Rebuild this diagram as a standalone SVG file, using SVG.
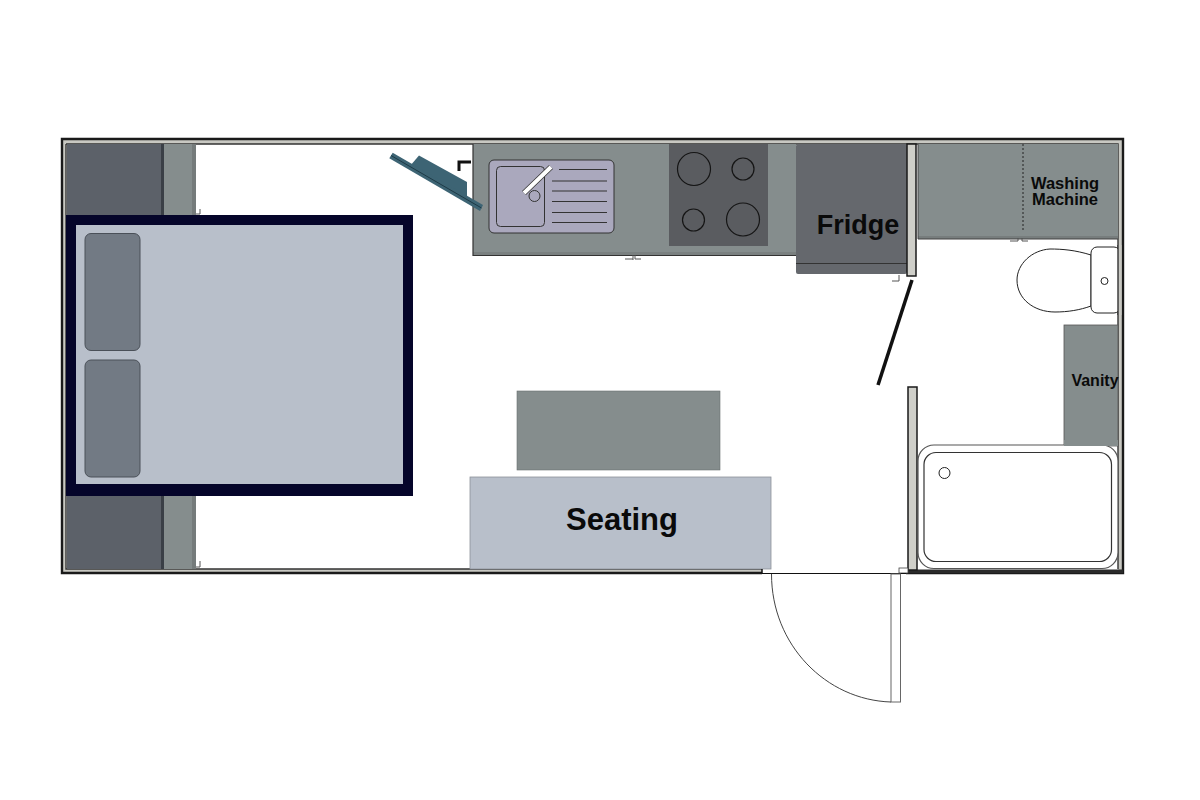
<svg xmlns="http://www.w3.org/2000/svg" width="1200" height="800" viewBox="0 0 1200 800">
<style>
.wall{fill:#cfcfc9;stroke:#1a1a1a;stroke-width:1.5}
.unit{fill:#858d8d}
.dark{fill:#5c6169}
.fix{fill:#fff;stroke:#222;stroke-width:1}
.tick{fill:none;stroke:#555;stroke-width:1}
.ln{fill:none;stroke:#333;stroke-width:1.2}
text{font-family:"Liberation Sans",Arial,sans-serif;font-weight:700;fill:#0a0a0a;text-anchor:middle}
</style>
<rect width="1200" height="800" fill="#fff"/>
<g id="shell">
<rect x="62" y="139" width="1061" height="5" fill="#c8c8c2"/>
<rect x="62.500" y="140" width="4" height="432" fill="#c8c8c2"/>
<rect x="1118" y="144" width="4" height="428" fill="#c8c8c2"/>
<rect x="66" y="569" width="696" height="3" fill="#c8c8c2"/>
<path d="M906 573H1123V139H62V573H762" fill="none" stroke="#1a1a1a" stroke-width="2.400"/>
<path d="M66 144H1118V569M66 144V569H762" fill="none" stroke="#333" stroke-width="1.400"/>
<rect x="907" y="569.500" width="216" height="3.500" fill="#2a2a2a"/>
</g>
<g id="wardrobe-top">
<rect x="67" y="144" width="94" height="72" class="dark"/>
<rect x="161" y="144" width="3" height="72" fill="#3a3f46"/>
<rect x="164" y="144" width="28" height="72" class="unit"/>
<rect x="192" y="144" width="4" height="72" fill="#757b7b"/>
<path class="tick" d="M196 214H200V209"/>
</g>
<g id="wardrobe-bottom">
<rect x="67" y="496" width="94" height="73" class="dark"/>
<rect x="161" y="496" width="3" height="73" fill="#3a3f46"/>
<rect x="164" y="496" width="28" height="73" class="unit"/>
<rect x="192" y="496" width="4" height="73" fill="#757b7b"/>
<path class="tick" d="M196 567H200V561"/>
</g>
<g id="bed">
<rect x="66" y="215" width="347" height="281" fill="#05052a"/>
<rect x="76" y="225" width="327" height="259" fill="#b8bfca"/>
<rect x="85" y="233.500" width="55" height="117" rx="6" fill="#727a84" stroke="#4a5058"/>
<rect x="85" y="360" width="55" height="117" rx="6" fill="#727a84" stroke="#4a5058"/>
</g>
<g id="counter">
<rect x="473" y="144" width="323" height="108" class="unit"/>
<rect x="473" y="252" width="323" height="3.500" fill="#7a8080"/>
<path d="M473 144V255.500H796" fill="none" stroke="#333" stroke-width="1.200"/>
<path class="tick" d="M633 255V260M625 259H633M641 259H635V255"/>
</g>
<g id="window">
<polygon points="410,166 419,155.500 467,182 467,198" fill="#3d6474"/>
<polygon points="392.700,152.700 483,205 480,211 389.300,158.300" fill="#3d6474"/>
<path d="M391 155.500L481.500 208" stroke="#1d3a46" stroke-width="1" fill="none"/>
<path d="M459 171V162H471" fill="none" stroke="#111" stroke-width="3"/>
</g>
<g id="sink">
<rect x="489" y="160" width="125" height="73" rx="5" fill="#aaa8bd" stroke="#333"/>
<rect x="496.500" y="166.500" width="48" height="60" rx="4" fill="#aaa8bd" stroke="#333"/>
<path d="M559 169.500H607M552 181H607M552 191H607M552 201.500H607M552 212.500H607M552 222.500H607" class="ln"/>
<circle cx="534.500" cy="196" r="5.500" fill="#aaa8bd" stroke="#333"/>
<path d="M524 193L551 167" stroke="#333" stroke-width="5.500"/>
<path d="M524 193L551 167" stroke="#fff" stroke-width="4"/>
</g>
<g id="hob">
<rect x="669" y="144" width="99" height="102" fill="#5a5c60"/>
<g fill="none" stroke="#151515" stroke-width="1.200">
<circle cx="694" cy="169" r="16.500"/><circle cx="743" cy="169" r="11"/>
<circle cx="693.500" cy="220" r="11"/><circle cx="743" cy="219.500" r="16.500"/>
</g>
</g>
<g id="fridge">
<rect x="796" y="144" width="111" height="130" rx="2" fill="#65686d"/>
<path d="M796 263.500H907" stroke="#333" stroke-width="1"/>
<path class="tick" d="M892 281H899V275"/>
<text x="858" y="234" font-size="27">Fridge</text>
</g>
<g id="partition">
<rect x="907" y="144" width="9" height="132" class="wall"/>
<rect x="908" y="387" width="9" height="183" class="wall"/>
<rect x="899" y="568" width="9" height="5" fill="#fff" stroke="#444" stroke-width=".8"/>
<path d="M912 280L878 385" stroke="#111" stroke-width="3.500"/>
</g>
<g id="washing-machine">
<rect x="918" y="144" width="200" height="92" class="unit"/>
<rect x="918" y="236" width="200" height="3" fill="#777d7d"/>
<path d="M918 144V239H1118" stroke="#444" stroke-width="1" fill="none"/>
<path d="M1023 144V232" stroke="#222" stroke-width="1" stroke-dasharray="2 2"/>
<path class="tick" d="M1018 238V241H1010M1022 238V241H1028"/>
<text x="1065" y="189" font-size="16.500">Washing</text>
<text x="1065" y="205" font-size="16.500">Machine</text>
</g>
<g id="toilet">
<path class="fix" d="M1091 255C1075 250 1062 249 1050 249C1032 250 1017 264 1017 280C1017 299 1034 312 1055 312C1068 312 1080 310 1091 306Z"/>
<rect x="1091" y="247" width="29" height="66" rx="6" class="fix"/>
<rect x="1118" y="245" width="3.500" height="70" fill="#c8c8c2"/>
<path d="M1118 245V315" stroke="#333" stroke-width="1.400"/>
<circle cx="1104.500" cy="281" r="3.500" class="fix"/>
</g>
<g id="vanity">
<rect x="1064" y="325" width="54" height="121" class="unit" stroke="#555" stroke-width=".8"/>
<text x="1095" y="386" font-size="16">Vanity</text>
</g>
<g id="bath">
<rect x="918" y="445" width="200" height="123.500" rx="16" fill="#fff" stroke="#555" stroke-width="1.200"/>
<rect x="924" y="452.500" width="187.500" height="109" rx="12" fill="#fff" stroke="#333" stroke-width="1.200"/>
<circle cx="944.500" cy="473" r="5.500" class="fix"/>
<rect x="1064" y="440" width="54" height="6" class="unit"/>
</g>
<g id="table">
<rect x="517" y="391" width="203" height="79" fill="#858d8d" stroke="#6a7070" stroke-width=".6"/>
</g>
<g id="seating">
<rect x="470" y="477" width="301" height="92" fill="#b8bfca" stroke="#8d929a" stroke-width=".8"/>
<text x="622" y="530" font-size="31">Seating</text>
</g>
<g id="entry-door">
<path d="M762 573.500H906" stroke="#111" stroke-width="1.200" fill="none"/>
<path d="M762 569V573" stroke="#111" stroke-width="1.500"/>
<rect x="891" y="574" width="9.500" height="128" fill="#fff" stroke="#666" stroke-width="1"/>
<path d="M771.500 574C771.500 645 826 700 891 702" fill="none" stroke="#444" stroke-width="1"/>
</g>
</svg>
